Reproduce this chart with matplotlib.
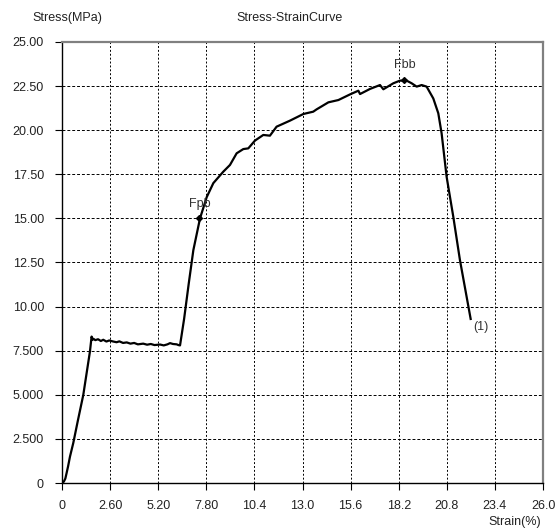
import matplotlib
matplotlib.use("Agg")
import matplotlib.pyplot as plt

# strain (%) and stress (MPa)
strain = [0.0, 0.1, 0.18, 0.25, 0.33, 0.43, 0.61, 0.85, 1.15, 1.51, 1.6, 1.65, 1.69, 1.8, 1.95,
          2.1, 2.23, 2.4, 2.55, 2.77, 2.95, 3.1, 3.3, 3.5, 3.7, 3.9, 4.1, 4.39, 4.6, 4.8,
          5.0, 5.3, 5.5, 5.7, 5.84, 6.0, 6.2, 6.29, 6.38, 6.6, 6.85, 7.1, 7.46, 7.82, 8.18,
          8.72, 9.08, 9.44, 9.8, 10.07, 10.43, 10.88, 11.24, 11.6, 12.32, 13.05, 13.58,
          13.76, 14.4, 14.94, 15.57, 16.02, 16.11, 16.65, 17.19, 17.37, 17.91, 18.27,
          18.63, 18.9, 19.17, 19.44, 19.71, 20.07, 20.34, 20.52, 20.79, 21.15, 21.51, 22.09]
stress = [0.0, 0.08, 0.25, 0.57, 0.95, 1.49, 2.27, 3.5, 4.99, 7.45, 8.3, 8.12, 8.18, 8.1, 8.15,
          8.05, 8.12, 8.02, 8.08, 8.02, 7.98, 8.03, 7.94, 7.97, 7.9, 7.94, 7.86, 7.9, 7.84, 7.88,
          7.82, 7.85, 7.8, 7.86, 7.93, 7.88, 7.86, 7.82, 7.8, 9.3, 11.3, 13.2, 15.0, 16.2, 17.0,
          17.65, 18.03, 18.69, 18.93, 18.97, 19.41, 19.73, 19.69, 20.2, 20.54, 20.92, 21.05,
          21.18, 21.58, 21.71, 22.03, 22.24, 22.05, 22.34, 22.56, 22.32, 22.66, 22.81,
          22.81, 22.66, 22.47, 22.56, 22.47, 21.8, 20.96, 19.82, 17.36, 15.1, 12.64, 9.3]

x_ticks = [0, 2.6, 5.2, 7.8, 10.4, 13.0, 15.6, 18.2, 20.8, 23.4, 26.0]
x_labels = ["0", "2.60", "5.20", "7.80", "10.4", "13.0", "15.6", "18.2", "20.8", "23.4", "26.0"]
y_ticks = [0, 2.5, 5, 7.5, 10, 12.5, 15, 17.5, 20, 22.5, 25]
y_labels = ["0", "2.500", "5.000", "7.500", "10.00", "12.50", "15.00", "17.50", "20.00", "22.50", "25.00"]

marks = {"Fpb": (7.4, 15.0), "Fbb": (18.5, 22.85)}

plt.rcParams['font.family'] = ['Liberation Sans', 'DejaVu Sans']
fig = plt.figure(figsize=(5.57, 5.31), dpi=100)
ax = fig.add_axes([62 / 557, 48 / 531, 481 / 557, 441 / 531])

ax.plot(strain, stress, color='black', lw=1.6, zorder=3)
for name, (mx, my) in marks.items():
    ax.plot(mx, my, marker='D', ms=3, color='black', zorder=4)
    ax.text(mx + 0.05, my + 0.5, name, ha='center', va='bottom', fontsize=9, color='#333333')
ax.text(strain[-1] + 0.15, stress[-1] - 0.1, "(1)", ha='left', va='top', fontsize=9, color='#333333')

ax.set_xlim(0, 26)
ax.set_ylim(0, 25)
ax.set_xticks(x_ticks)
ax.set_xticklabels(x_labels)
ax.set_yticks(y_ticks)
ax.set_yticklabels(y_labels)
ax.tick_params(labelsize=9, length=5, width=0.8, colors='black', labelcolor='#222222')
ax.tick_params(axis='x', pad=7)
ax.tick_params(axis='y', pad=8)

ax.grid(axis='y', color='black', ls=(0, (3, 2)), lw=0.7)
ax.grid(axis='x', color='black', ls=(0, (2, 2)), lw=0.7)

ax.spines['left'].set_color('black')
ax.spines['bottom'].set_color('black')
ax.spines['left'].set_linewidth(1)
ax.spines['bottom'].set_linewidth(1)
ax.spines['top'].set_color('#808080')
ax.spines['right'].set_color('#808080')
ax.spines['top'].set_linewidth(1.6)
ax.spines['right'].set_linewidth(1.6)

fig.text(32 / 557, 1 - 18 / 531, "Stress(MPa)", ha='left', va='center', fontsize=9, color='#222222')
fig.text(290 / 557, 1 - 18 / 531, "Stress-StrainCurve", ha='center', va='center', fontsize=9, color='#222222')
fig.text(541 / 557, 1 - 522 / 531, "Strain(%)", ha='right', va='center', fontsize=9, color='#222222')

fig.savefig("out.png", dpi=100)
